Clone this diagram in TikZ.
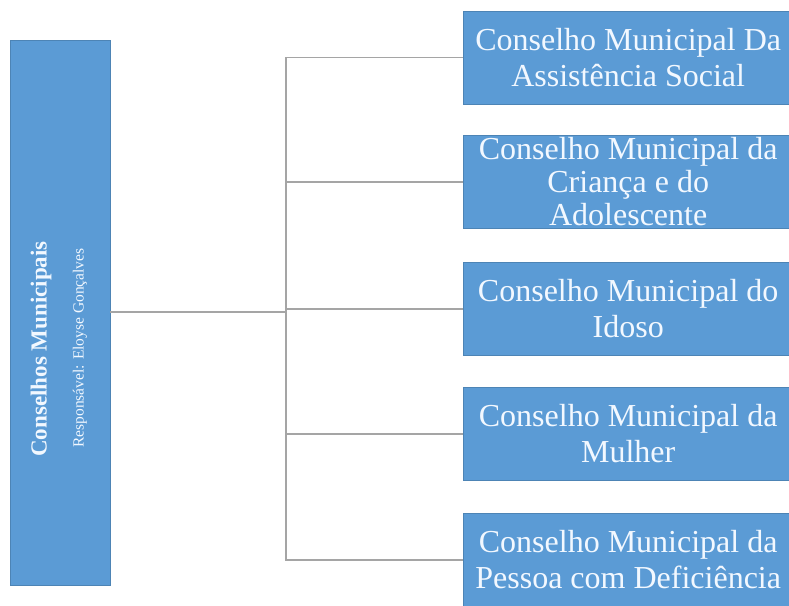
\documentclass[tikz,border=0pt]{standalone}
\usepackage{fontspec}
\setmainfont{Liberation Serif}
\definecolor{boxblue}{HTML}{5B9BD5}
\definecolor{linegray}{HTML}{A5A5A5}
\definecolor{txt}{HTML}{F2F8FF}
\begin{document}
\begin{tikzpicture}[x=1pt,y=-1pt,
  conbox/.style={rectangle,fill=boxblue,draw=boxblue!85!black,line width=0.4pt,
    minimum width=330pt,minimum height=93pt,inner sep=0pt,anchor=west,
    text=txt,align=center,font=\fontsize{32}{36}\selectfont},
  link/.style={draw=linegray,line width=1.1pt}]
\useasboundingbox (0,0) rectangle (789,605);
\clip (0,0) rectangle (789,605);
\fill[white] (0,0) rectangle (789,605);
% left box
\node[rectangle,fill=boxblue,draw=boxblue!85!black,line width=0.4pt,
  minimum width=100pt,minimum height=545pt,inner sep=0pt] (L) at (60,312.5) {};
\node[rotate=90,text=txt,font=\fontsize{23}{26}\selectfont\bfseries,inner sep=0pt] (Lt) at (41,349) {Conselhos Municipais};
\node[rotate=90,text=txt,font=\fontsize{15.5}{18}\selectfont,inner sep=0pt] (Ls) at (80,348) {Responsável: Eloyse Gonçalves};
% right boxes
\node[conbox] (b1) at (463,57.5) {Conselho Municipal Da\\Assistência Social};
\node[conbox,font=\fontsize{32}{33}\selectfont] (b2) at (463,182) {Conselho Municipal da\\Criança e do\\Adolescente};
\node[conbox] (b3) at (463,309) {Conselho Municipal do\\Idoso};
\node[conbox] (b4) at (463,434) {Conselho Municipal da\\Mulher};
\node[conbox] (b5) at (463,560) {Conselho Municipal da\\Pessoa com Deficiência};
% connectors
\coordinate (j) at (286,312);
\draw[link] (L.east |- j) -- (j);
\draw[link] (b1.west) -- (b1.west -| j) -- (b5.west -| j) -- (b5.west);
\draw[link] (b2.west -| j) -- (b2.west);
\draw[link] (b3.west -| j) -- (b3.west);
\draw[link] (b4.west -| j) -- (b4.west);
\end{tikzpicture}
\end{document}
